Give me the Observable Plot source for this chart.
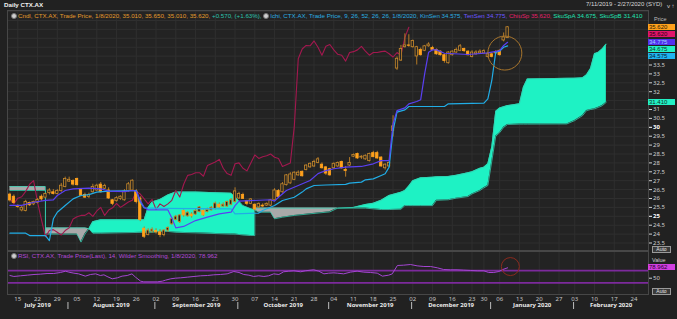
<!DOCTYPE html>
<html><head><meta charset="utf-8">
<script src="https://cdn.jsdelivr.net/npm/d3@7"></script>
<script src="https://cdn.jsdelivr.net/npm/@observablehq/plot@0.6"></script>
<style>
html,body{margin:0;padding:0;background:#202020;}
#wrap{position:relative;width:677px;height:319px;overflow:hidden;background:#212121;font-family:"Liberation Sans",Arial,sans-serif;}
#wrap svg{position:absolute;left:0;top:0;background:transparent !important;}
.t{position:absolute;white-space:nowrap;font-size:6.2px;line-height:7px;}
.box{position:absolute;left:648px;width:27px;height:6px;font-size:6px;line-height:6px;padding-left:1px;box-sizing:border-box;color:#1b1b1b;}
.ico{display:inline-block;width:4px;height:4px;border-radius:50%;background:#cfcfcf;border:1px solid #777;margin-right:1px;vertical-align:-1px;}
.auto{position:absolute;left:652px;width:17px;height:5px;border:1px solid #9a9a9a;background:#3a3a3a;color:#e6e6e6;font-size:5px;line-height:5px;text-align:center;}
</style></head>
<body><div id="wrap"></div>
<script>
// ---------- data ----------
const startDate = "2019-07-11", endDate = "2020-02-27";
const holidays = ["2019-12-25","2019-12-26","2020-01-01","2020-01-27"];

const openP  = [26.22,26.10,25.58,25.33,25.30,25.75,25.67,25.75,26.10,26.05,26.30,26.35,26.26,26.42,26.65,26.95,26.98,27.10,26.50,26.20,26.08,26.35,26.45,26.78,26.55,26.45,25.90,25.85,25.98,25.90,26.40,26.45,26.40,26.00,24.30,23.95,24.15,24.18,24.10,23.95,24.20,24.55,24.80,24.68,25.30,25.00,25.10,25.10,25.25,25.30,25.25,25.33,25.42,25.65,25.55,25.55,25.65,25.80,26.00,26.20,25.85,25.70,25.65,25.50,25.60,25.60,25.60,25.90,26.42,26.35,26.75,26.85,27.05,27.30,27.50,27.60,27.75,27.80,28.00,27.90,27.75,27.65,27.70,27.80,28.05,27.60,27.85,28.35,28.50,28.30,28.20,28.10,28.55,28.55,28.30,27.70,27.80,29.80,33.30,33.75,34.50,34.60,34.50,33.98,34.35,34.30,34.55,34.45,34.35,34.25,34.05,33.60,34.05,34.20,34.30,34.40,34.25,33.95,34.10,34.15,34.15,33.95,34.10,34.15,34.30,34.88,35.01];
const highP  = [26.30,26.20,25.65,25.55,25.90,25.80,25.85,26.00,26.20,26.30,26.55,26.50,26.50,26.85,27.20,27.20,27.05,27.15,26.55,26.30,26.30,26.80,26.80,26.90,26.80,26.60,25.95,26.10,26.15,26.50,26.90,27.05,26.50,26.10,24.40,24.30,24.35,24.30,24.25,24.25,24.40,24.90,25.05,25.10,25.35,25.25,25.20,25.40,25.55,25.35,25.45,25.55,25.80,25.75,25.75,25.85,26.00,26.60,26.35,26.30,25.90,26.00,25.70,25.75,25.70,25.75,25.95,26.55,26.50,26.90,27.35,27.45,27.50,27.55,27.55,27.90,28.00,28.15,28.30,28.00,27.80,27.70,28.00,28.05,28.10,27.80,28.30,28.50,28.55,28.40,28.45,28.55,28.65,28.65,28.35,27.95,28.10,30.65,33.95,34.60,35.25,35.20,34.90,34.55,34.45,34.60,34.75,34.55,34.40,34.30,34.10,34.25,34.30,34.45,34.65,34.45,34.30,34.30,34.30,34.35,34.35,34.20,34.20,34.30,34.35,35.30,35.65];
const lowP   = [25.80,25.70,25.45,25.25,25.25,25.55,25.60,25.70,25.85,26.00,26.20,26.20,26.20,26.35,26.60,26.90,26.70,26.70,26.10,26.00,26.00,26.30,26.40,26.30,26.50,25.95,25.60,25.80,25.90,25.85,26.35,26.40,25.70,24.70,23.75,23.90,24.05,24.00,23.80,23.85,24.10,24.50,24.75,24.60,24.95,24.95,24.90,25.05,25.20,25.00,25.20,25.30,25.35,25.45,25.50,25.50,25.60,25.75,25.95,25.95,25.60,25.65,25.30,25.45,25.50,25.55,25.55,25.85,26.00,26.30,26.70,26.80,27.00,27.25,27.20,27.55,27.70,27.75,27.95,27.65,27.30,27.25,27.65,27.75,27.65,27.20,27.80,28.30,28.20,28.20,28.15,28.05,28.30,28.20,27.75,27.60,27.75,29.45,33.20,33.70,34.45,34.50,34.45,33.50,34.00,34.25,34.50,34.30,34.05,34.00,33.60,33.55,34.00,34.15,34.25,34.20,34.00,33.90,34.05,34.10,34.10,33.90,33.90,34.10,34.00,34.80,35.01];
const closeP = [25.89,25.75,25.52,25.48,25.80,25.62,25.80,25.92,25.95,26.25,26.45,26.25,26.42,26.72,27.10,27.05,26.78,26.75,26.15,26.05,26.20,26.65,26.72,26.35,26.70,26.00,25.70,26.02,26.10,26.40,26.80,27.00,25.80,24.80,23.85,24.20,24.25,24.10,23.95,24.20,24.35,24.85,24.98,25.05,25.05,25.20,25.00,25.30,25.50,25.05,25.35,25.48,25.72,25.50,25.65,25.80,25.90,26.40,26.25,25.98,25.70,25.95,25.38,25.70,25.55,25.70,25.90,26.45,26.08,26.80,27.30,27.35,27.45,27.45,27.25,27.85,27.95,28.05,28.20,27.70,27.40,27.30,27.95,28.00,27.70,27.55,28.00,28.45,28.25,28.35,28.40,28.50,28.32,28.25,27.80,27.90,28.00,30.05,33.85,34.40,34.60,34.58,34.85,34.50,34.05,34.55,34.65,34.35,34.10,34.05,33.72,34.20,34.25,34.35,34.55,34.28,34.05,34.20,34.20,34.25,34.28,34.13,33.95,34.20,34.05,35.05,35.62];
const chikouShift = 25;

const tenkanIdx = [0,3,6,9,11,12,14,16,20,23,25,29,31,32,33,34,35,40,41,42,44,47,50,53,56,57,58,66,67,68,70,73,76,78,80,82,85,89,92,94,96,97,98,100,101,103,104,105,106,107,108,110,116,121,124,125,126];
const tenkanVal = [25.61,25.61,25.79,25.89,25.92,26.17,26.45,26.54,26.58,26.54,26.42,26.39,26.45,26.41,25.89,25.51,25.36,25.36,24.90,24.35,24.43,24.76,24.95,25.14,25.23,25.60,25.85,25.93,25.85,26.07,26.45,26.73,27.01,27.40,27.57,27.67,27.76,27.80,27.95,28.13,28.13,30.20,30.94,31.09,31.32,31.45,31.55,33.00,34.22,34.35,34.35,34.16,34.09,34.18,34.31,34.60,34.775];

const kijunIdx = [0,4,5,9,10,11,12,14,16,18,20,22,25,32,33,34,38,56,57,63,64,67,69,72,74,75,77,80,85,86,89,90,92,94,95,96,97,98,100,101,110,111,120,121,122,123,124,125,126];
const kijunVal = [24.05,24.05,23.92,23.92,23.64,24.86,25.23,25.61,25.98,26.17,26.22,26.36,26.41,26.45,25.79,25.47,25.45,25.42,25.14,25.18,25.33,25.61,25.89,26.07,26.36,26.54,26.73,26.76,26.79,26.86,26.92,27.05,27.10,27.29,27.39,27.76,29.82,30.85,30.98,31.17,31.17,31.32,31.36,31.60,32.63,34.22,34.28,34.50,34.575];

const cloudIdx = [0,9,9,17,18,19,20,21,23,34,35,36,38,40,42,47,56,57,58,59,61,62,62,63,66,67,69,72,76,81,83,87,90,92,94,96,99,100,101,102,104,107,108,111,113,116,117,119,120,121,122,123,124,125,126,129,130,131,141,143,145,146,147,148,149,150,151];
const spanA    = [26.45,26.45,24.00,24.00,23.55,24.00,24.30,24.70,24.80,24.80,25.50,25.80,25.95,26.20,26.36,26.36,26.30,26.10,25.85,25.60,25.42,25.36,25.36,25.23,25.23,24.86,24.95,25.05,25.14,25.25,25.46,25.50,25.66,25.73,25.90,26.17,26.35,26.45,26.70,27.00,27.16,27.20,27.22,27.24,27.30,27.45,27.50,27.70,27.76,27.95,28.90,30.90,31.09,31.15,31.22,31.32,32.25,32.72,32.75,32.76,32.78,32.95,33.30,34.13,34.22,34.41,34.675];
const spanB    = [26.67,26.67,24.35,24.35,24.35,24.35,24.30,24.05,24.05,24.10,24.10,24.10,24.15,24.15,24.10,24.07,24.00,24.00,23.98,23.95,23.92,23.92,25.46,25.46,25.46,25.46,25.46,25.46,25.46,25.46,25.46,25.46,25.46,25.42,25.38,25.38,25.40,25.60,25.60,25.60,25.60,25.60,25.90,25.93,26.02,26.11,26.26,26.45,26.60,26.73,28.10,29.50,29.70,30.00,30.16,30.18,30.18,30.18,30.19,30.38,30.66,30.94,31.00,31.04,31.12,31.22,31.41];

const rsiIdx = [0,1,2.7,4.4,6.1,7.7,9.4,11.1,12.8,14.1,14.9,16.2,17.4,19.1,20.4,21.7,22.9,23.8,24.6,25.9,27.2,28.4,29.7,30.9,31.8,33.1,33.9,37.3,38.6,39.4,40.7,41.9,43.2,44.9,46.6,48.3,50,51.6,53.3,55,56.7,58,59.2,60.5,61.7,63,64.3,65.5,66.8,68.1,69.3,70.6,71.9,73.6,74.8,76.9,78.2,79.5,80.7,82,82.9,84.5,86.2,87.9,89.6,91.3,93,94.3,95.9,96.8,98.1,99.7,101.4,103.1,104.8,106.5,108.2,109.8,111.5,113.2,114.9,116.6,118.3,120,121.2,122.5,123.8,124.6,126];
const rsiVal = [53.9,50.7,52.9,55,57.2,58.3,60.4,60.4,63.7,68,64.8,61.5,59.3,51.8,57.2,59.3,53.9,56.1,50.7,43.1,46.3,51.8,53.9,59.3,48.5,35.4,33.2,33.2,35.4,38.7,43.1,45.2,46.3,48.5,50.7,52.9,53.9,56.1,57.2,59.3,66.9,63.7,57.2,55,50.7,52.9,50.7,52.9,59.3,57.2,66,68,69.2,66,69.2,72.5,68,59.3,61.5,62.6,61.5,59.3,64.8,68,64.8,63.7,61.5,51.8,55,59.3,86.5,87.6,89.7,85.4,83.2,83.2,79,73.5,72.5,72.5,71.4,70.3,69.2,69.2,63.7,63.7,66.9,72.5,78.962];
const rsiBands = [70, 30];
const rsiTicks = [50];
const priceTicks = [23.5,24,24.5,25.5,26,26.5,27,27.5,28,28.5,29,29.5,30.5,31,32,32.5,33,33.5];
const priceMajorTicks = [25, 30];
const priceGrid = [23.5,24,24.5,25,25.5,26,26.5,27,27.5,28,28.5,29,29.5,30,30.5,31,31.5,32,32.5,33,33.5,34,34.5,35,35.5,36,36.5];
const priceCircle = [{i: 125.3, p: 34.17}];
const rsiCircle = [{i: 126.7, v: 83}];

// ---------- derived tables ----------
const parse = d3.utcParse("%Y-%m-%d"), fmtISO = d3.utcFormat("%Y-%m-%d");
const days = d3.utcDays(parse(startDate), d3.utcDay.offset(parse(endDate), 1))
  .filter(d => d.getUTCDay() % 6 !== 0 && !holidays.includes(fmtISO(d)));
const weekTicks = [], monthSeps = [];
days.forEach((d, i) => {
  if (i === 0) return;
  if (+d3.utcMonday.floor(d) !== +d3.utcMonday.floor(days[i - 1])) weekTicks.push({i, label: d3.utcFormat("%d")(d3.utcMonday.floor(d))});
  if (d.getUTCMonth() !== days[i - 1].getUTCMonth()) monthSeps.push({i, date: d});
});
const xDomain = [-0.608, 161.67];
const edges = [xDomain[0], ...monthSeps.map(s => s.i - 0.3), xDomain[1]];
const monthLabels = edges.slice(0, -1).map((e, k) => ({
  mid: (e + edges[k + 1]) / 2,
  label: d3.utcFormat("%B %Y")(k === 0 ? days[0] : monthSeps[k - 1].date)
}));

const candles = openP.map((o, i) => ({i, o, h: highP[i], l: lowP[i], c: closeP[i]}));
const chikou = closeP.slice(chikouShift).map((v, i) => ({i, v}));
const tenkan = tenkanIdx.map((i, k) => ({i, v: tenkanVal[k]}));
const kijun = kijunIdx.map((i, k) => ({i, v: kijunVal[k]}));
const cloud = cloudIdx.map((i, k) => ({i, a: spanA[k], b: spanB[k], hi: Math.max(spanA[k], spanB[k])}));
const rsi = rsiIdx.map((i, k) => ({i, v: rsiVal[k]}));

const BG = "#232323", GRID = "#2f2f2f", FRAME = "#474747";
const UP = "#c98a2c", DN = "#ffa11c";

// ---------- main panel ----------
const main = Plot.plot({
  width: 677, height: 319,
  marginTop: 10, marginBottom: 69, marginLeft: 7, marginRight: 29,
  style: {background: "transparent", overflow: "visible"},
  x: {domain: xDomain, axis: null},
  y: {domain: [23.079, 36.562], axis: null},
  marks: [
    Plot.frame({fill: BG}),
    Plot.gridY(priceGrid, {stroke: GRID, strokeOpacity: 1}),
    Plot.gridX(weekTicks.map(d => d.i), {stroke: GRID, strokeOpacity: 1}),
    Plot.areaY(cloud, {x: "i", y1: "b", y2: "hi", fill: "#1ef2c4", curve: "linear"}),
    Plot.areaY(cloud, {x: "i", y1: "a", y2: "hi", fill: "#a9a9a9", curve: "linear"}),
    Plot.line(cloud, {x: "i", y: "a", stroke: "#35cdb0", strokeWidth: 0.8}),
    Plot.line(cloud, {x: "i", y: "b", stroke: "#35cdb0", strokeWidth: 0.8}),
    Plot.line(chikou, {x: "i", y: "v", stroke: "#a3184f", strokeWidth: 1.1}),
    Plot.ruleX(candles, {x: "i", y1: "l", y2: "h", stroke: "#b47a26", strokeWidth: 1}),
    Plot.rect(candles, {
      x1: d => d.i - 0.3, x2: d => d.i + 0.3,
      y1: d => Math.min(d.o, d.c), y2: d => Math.max(d.o, d.c),
      fill: d => d.c < d.o ? DN : BG, stroke: d => d.c < d.o ? DN : UP, strokeWidth: 0.8
    }),
    Plot.line(kijun, {x: "i", y: "v", stroke: "#21ade6", strokeWidth: 1.2}),
    Plot.line(tenkan, {x: "i", y: "v", stroke: "#5a40f2", strokeWidth: 1.2}),
    Plot.dot(priceCircle, {x: "i", y: "p", r: 17, stroke: "#a8752c", fill: "none", strokeWidth: 1}),
    Plot.axisY(priceTicks, {anchor: "right", tickSize: 3, tickPadding: 1.5, fontSize: 6, color: "#cfcfcf", tickFormat: d => String(d)}),
    Plot.axisY(priceMajorTicks, {anchor: "right", tickSize: 3, tickPadding: 1.5, fontSize: 6, fontWeight: "bold", color: "#ffffff", tickFormat: d => String(d)}),
    Plot.frame({stroke: FRAME})
  ]
});

// ---------- RSI panel ----------
const rsiPlot = Plot.plot({
  width: 677, height: 319,
  marginTop: 251, marginBottom: 25, marginLeft: 7, marginRight: 29,
  style: {background: "transparent", overflow: "visible"},
  x: {domain: xDomain, axis: null},
  y: {domain: [-8, 132.1], axis: null},
  marks: [
    Plot.frame({fill: BG}),
    Plot.gridX(weekTicks.map(d => d.i), {stroke: GRID, strokeOpacity: 1}),
    Plot.ruleY(rsiBands, {stroke: "#7c2a9c", strokeWidth: 1.8}),
    Plot.line(rsi, {x: "i", y: "v", stroke: "#a445d2", strokeWidth: 1}),
    Plot.dot(rsiCircle, {x: "i", y: "v", r: 9, stroke: "#8c2a1e", fill: "none", strokeWidth: 1}),
    Plot.axisY(rsiTicks, {anchor: "right", tickSize: 3, tickPadding: 1.5, fontSize: 6, color: "#cfcfcf", dy: 1.5}),
    Plot.axisX(weekTicks.map(d => d.i), {anchor: "bottom", tickSize: 0, tickPadding: 2, fontSize: 6, color: "#c4c4c4",
      tickFormat: i => weekTicks.find(w => w.i === i).label}),
    Plot.ruleX(monthSeps, {x: d => d.i - 0.3, insetTop: 36, dy: 15, stroke: "#bdbdbd", strokeWidth: 1}),
    Plot.text(monthLabels, {x: "mid", text: "label", frameAnchor: "bottom", dy: 12.8, fill: "#ececec", fontSize: 6, fontWeight: "bold"}),
    Plot.frame({stroke: FRAME})
  ]
});

const wrap = document.getElementById("wrap");
wrap.appendChild(main);
wrap.appendChild(rsiPlot);

function addDiv(cls, html, style) {
  const el = document.createElement("div");
  el.className = cls; el.innerHTML = html; el.setAttribute("style", style);
  wrap.appendChild(el); return el;
}
const last = closeP.length - 1;
const chg = closeP[last] - closeP[last - 1];
const lastDate = d3.utcFormat("%-m/%-d/%Y")(days[last]);
const f3 = v => v.toFixed(3);

addDiv("t", "Daily CTX.AX", "left:4px;top:1px;color:#f2f2f2;font-weight:bold;");
addDiv("t", "7/11/2019 - 2/27/2020 (SYD)", "left:586px;top:1px;color:#d8d8d8;font-size:6px;");
addDiv("t",
  `<span class="ico"></span><span style="color:#e39b2c">Cndl, CTX.AX, Trade Price, ${lastDate}, ${f3(openP[last])}, ${f3(highP[last])}, ${f3(lowP[last])}, ${f3(closeP[last])}, </span>` +
  `<span style="color:#2bc2ad">+${f3(chg)}, (+${(chg / closeP[last - 1] * 100).toFixed(2)}%), </span>` +
  `<span class="ico"></span><span style="color:#2aaee0">Ichi, CTX.AX, Trade Price, 9, 26, 52, 26, 26, ${lastDate}, KinSen ${f3(kijunVal[kijunVal.length - 1])}, </span>` +
  `<span style="color:#6b58ff">TenSen ${f3(tenkanVal[tenkanVal.length - 1])}, </span>` +
  `<span style="color:#e2216b">ChiuSp ${f3(closeP[last])}, </span>` +
  `<span style="color:#1fe2b2">SkuSpA ${f3(spanA[spanA.length - 1])}, SkuSpB ${f3(spanB[spanB.length - 1])}</span>`,
  "left:11px;top:12px;");
addDiv("t",
  `<span class="ico"></span><span style="color:#b24ad8">RSI, CTX.AX, Trade Price(Last), 14, Wilder Smoothing, ${lastDate}, ${f3(rsiVal[rsiVal.length - 1])}</span>`,
  "left:11px;top:252px;");

// price boxes on the right axis
const ys = main.scale("y");
const boxes = [
  {v: closeP[last], bg: "#ffa11c", fg: "#2a1a00"},
  {v: closeP[last], bg: "#e0146a", fg: "#2a0010"},
  {v: tenkanVal[tenkanVal.length - 1], bg: "#5330f0", fg: "#9fd0ff"},
  {v: spanA[spanA.length - 1], bg: "#22f0c4", fg: "#103028"},
  {v: kijunVal[kijunVal.length - 1], bg: "#1eb4f0", fg: "#0a2030"},
  {v: spanB[spanB.length - 1], bg: "#22f0c4", fg: "#103028"}
];
let prev = -Infinity;
addDiv("t", "Price", "left:654px;top:16px;color:#bdbdbd;font-size:5.5px;line-height:6px;");
boxes.forEach(b => {
  let y = ys.apply(b.v);
  if (y < prev + 7) y = prev + 7;
  prev = y;
  addDiv("box", f3(b.v), `top:${y - 3}px;background:${b.bg};color:${b.fg};`);
});
const rs = rsiPlot.scale("y");
addDiv("t", "Value", "left:652px;top:257px;color:#d0d0d0;font-size:5.5px;line-height:6px;");
addDiv("box", f3(rsiVal[rsiVal.length - 1]), `top:${rs.apply(rsiVal[rsiVal.length - 1]) - 3}px;background:#d23fe0;color:#2a0030;`);
addDiv("auto", "Auto", "top:245.5px;");
addDiv("auto", "Auto", "top:288px;");
</script>
</body></html>
